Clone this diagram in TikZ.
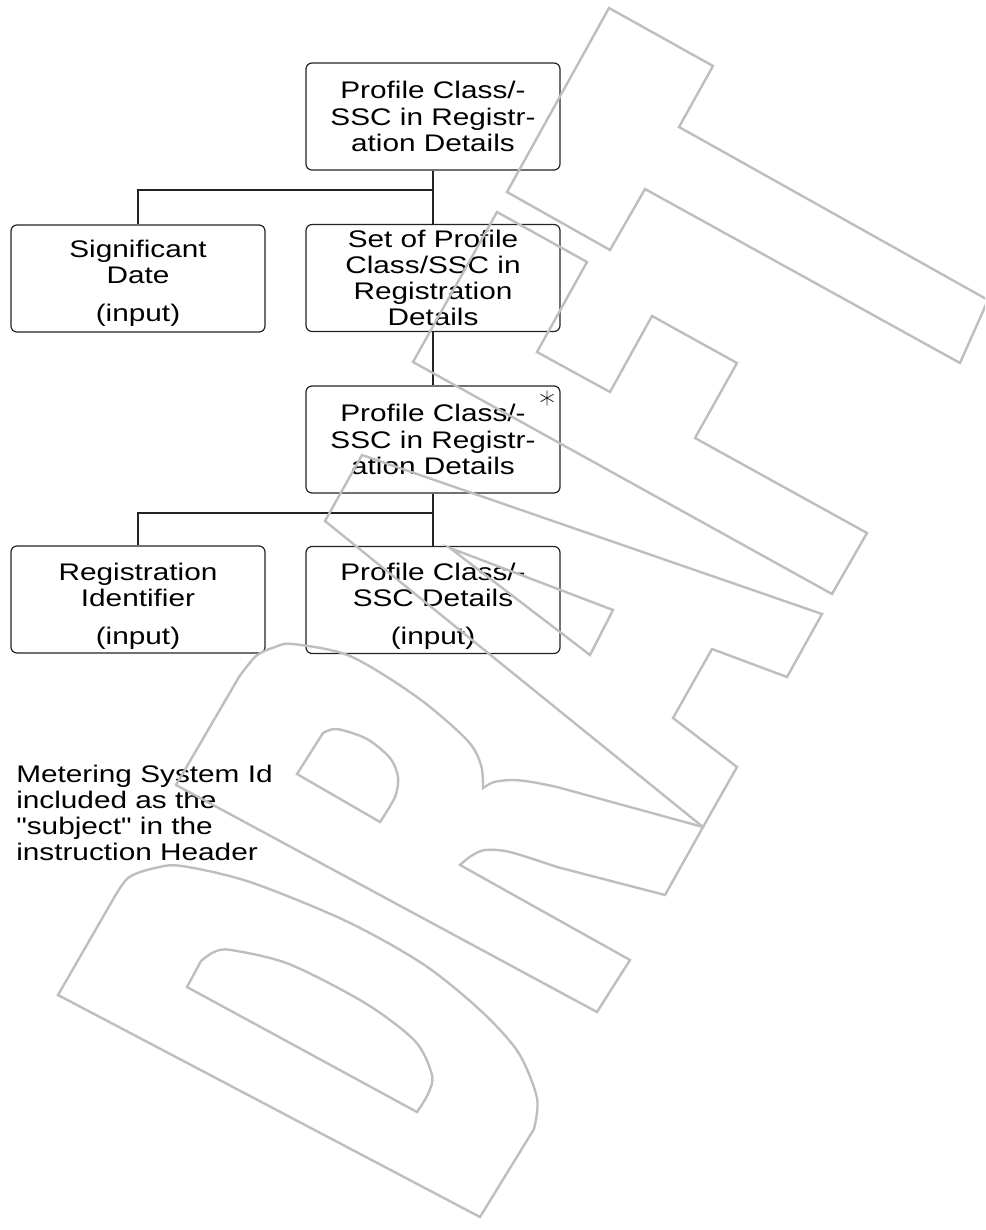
\documentclass[tikz,border=0pt]{standalone}
\usepackage{fontspec}
\setmainfont{Liberation Sans}
\newfontfamily\labfont[FakeStretch=1.24]{Liberation Sans}
\usetikzlibrary{calc}
\definecolor{wm}{RGB}{190,190,190}
\definecolor{ink}{RGB}{35,35,35}
\begin{document}
\begin{tikzpicture}[x=0.75pt,y=-0.75pt,
  box/.style={draw=ink, line width=0.9pt, rounded corners=4.5pt,
    minimum width=190.5pt, minimum height=80.25pt, inner sep=0pt,
    align=center, font=\labfont\fontsize{18}{19.7}\selectfont},
  note/.style={inner sep=0pt, align=left, font=\labfont\fontsize{18}{19.6}\selectfont},
  conn/.style={draw=ink, line width=0.9pt},
  wmline/.style={draw=wm, line width=1.8pt, line join=miter},
  starline/.style={draw=ink, line width=0.6pt}
]
\useasboundingbox (0,0) rectangle (985,1230);

% boxes
\node[box] (top) at (433,116.5) {Profile Class/-\\SSC in Registr-\\ation Details};
\node[box] (sig) at (138,278.5) {\rule{0pt}{20.3pt}Significant\\Date\\[8.5pt](input)};
\node[box] (set) at (433,278) {Set of Profile\\Class/SSC in\\Registration\\Details};
\node[box] (mid) at (433,439.5) {Profile Class/-\\SSC in Registr-\\ation Details};
\node[box] (reg) at (138,599.5) {\rule{0pt}{22.7pt}Registration\\Identifier\\[8.5pt](input)};
\node[box] (det) at (433,600) {\rule{0pt}{22.7pt}Profile Class/-\\SSC Details\\[8.5pt](input)};

% asterisk on the iterated box
\coordinate (star) at (547,398);
\draw[starline] ($(star)+(0,-7.5)$) -- ($(star)+(0,7.5)$)
  ($(star)+(-6.5,-3.75)$) -- ($(star)+(6.5,3.75)$)
  ($(star)+(-6.5,3.75)$) -- ($(star)+(6.5,-3.75)$);

% connectors
\coordinate (j1) at (433,190);
\coordinate (j2) at (433,513);
\draw[conn] (top.south) -- (set.north);
\draw[conn] (j1) -| (sig.north);
\draw[conn] (set.south) -- (mid.north);
\draw[conn] (mid.south) -- (det.north);
\draw[conn] (j2) -| (reg.north);

% note
\node[note, anchor=north west] (meter) at (16,764.5)
  {Metering System Id\\included as the\\"subject" in the\\instruction Header};

% DRAFT watermark
\begin{scope}
\clip (0,0) rectangle (985,1230);
% D
\draw[wmline] (58,995) -- (111,903) -- plot[smooth] coordinates {(111,903) (128,878) (155,868) (182,866) (250,882) (346,921) (423,964) (480,1010) (518,1052) (537,1098) (534,1129)} -- (480,1217) -- cycle;
\draw[wmline] (187,987) -- (201,961) -- plot[smooth] coordinates {(201,961) (214,952) (231,950) (289,964) (365,1003) (415,1041) (432,1075) (428,1094) (417,1112)} -- cycle;
% R
\draw[wmline] (176,785) -- (239,677) -- plot[smooth] coordinates {(239,677) (256,656) (275,647) (293,644) (350,656) (417,697) (467,740) (481,765) (483,788)}
  -- plot[smooth] coordinates {(483,788) (494,782) (512,780) (532,782) (557,787)}
  -- (703,827) -- (665,895) -- (557,867)
  -- plot[smooth] coordinates {(557,867) (510,852) (485,850) (471,856) (460,865)}
  -- (630,960) -- (597,1012) -- cycle;
\draw[wmline] (297,774) -- (323,733) -- plot[smooth] coordinates {(323,733) (337,729) (367,739) (390,758) (398,777) (395,797) (380,822)} -- cycle;
% A
\draw[wmline] (703,827) -- (325,521) -- (362,455) -- (822,614) -- (787,677) -- (712,649) -- (673,718) -- (737,767) -- cycle;
\draw[wmline] (450,548) -- (613,610) -- (590,655) -- cycle;
% F
\draw[wmline] (413,362) -- (497,212) -- (587,262) -- (537,352) -- (610,392) -- (652,316) -- (737,363) -- (695,438) -- (867,533) -- (832,594) -- cycle;
% T
\draw[wmline] (609,8) -- (713,66) -- (679,127) -- (988,300) -- (960,363) -- (645,189) -- (610,250) -- (507,192) -- cycle;
\end{scope}
\end{tikzpicture}
\end{document}
